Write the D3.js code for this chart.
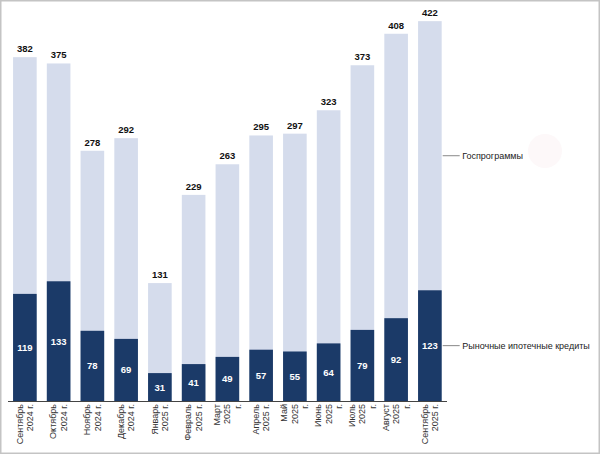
<!DOCTYPE html>
<html><head><meta charset="utf-8">
<script src="https://cdn.jsdelivr.net/npm/d3@7/dist/d3.min.js"></script>
<style>html,body{margin:0;padding:0;background:#fff;}svg{display:block;font-family:"Liberation Sans",Arial,sans-serif;}</style>
</head><body>
<svg id="c" width="600" height="454"></svg>
<script>
const categories = ["Сентябрь\n2024 г.","Октябрь\n2024 г.","Ноябрь\n2024 г.","Декабрь\n2024 г.","Январь\n2025 г.","Февраль\n2025 г.","Март\n2025\nг.","Апрель\n2025 г.","Май\n2025\nг.","Июнь\n2025\nг.","Июль\n2025\nг.","Август\n2025\nг.","Сентябрь\n2025 г."];
const totals = [382,375,278,292,131,229,263,295,297,323,373,408,422];
const market = [119,133,78,69,31,41,49,57,55,64,79,92,123];
const seriesNames = ["Госпрограммы","Рыночные ипотечные кредиты"];

const svg = d3.select("#c");
const dark = "#1b3a68", light = "#d5dcec";
const base = 401;
const x = d3.scaleBand().domain(d3.range(categories.length)).range([8, 446.75]).paddingInner(0.3).paddingOuter(0.15);
const y = d3.scaleLinear().domain([0, 445.5]).range([base, 0]);

svg.append("rect").attr("x",0.75).attr("y",0.75).attr("width",598.5).attr("height",452.5).attr("fill","none").attr("stroke","#c4c4c4").attr("stroke-width",1.5);
svg.append("circle").attr("cx",545).attr("cy",151).attr("r",17).attr("fill","#fdf8f9");

const data = categories.map((c,i)=>({i, total: totals[i], market: market[i]}));
// light (total) bars
svg.selectAll(".tb").data(data).join("rect").attr("x",d=>x(d.i)).attr("width",x.bandwidth())
  .attr("y",d=>y(d.total)).attr("height",d=>y(0)-y(d.total)).attr("fill",light);
// dark (market) bars
svg.selectAll(".mb").data(data).join("rect").attr("x",d=>x(d.i)).attr("width",x.bandwidth())
  .attr("y",d=>y(d.market)).attr("height",d=>y(0)-y(d.market)).attr("fill",dark);
// total labels
svg.selectAll(".tl").data(data).join("text").attr("x",d=>x(d.i)+x.bandwidth()/2).attr("y",d=>y(d.total)-5)
  .attr("text-anchor","middle").attr("font-size","9.5px").attr("font-weight","bold").attr("fill","#111").text(d=>d.total);
// market labels
svg.selectAll(".ml").data(data).join("text").attr("x",d=>x(d.i)+x.bandwidth()/2).attr("y",d=>(y(d.market)+y(0))/2)
  .attr("dominant-baseline","central").attr("text-anchor","middle").attr("font-size","9.5px").attr("font-weight","bold").attr("fill","#fff").text(d=>d.market);

// axis
svg.append("line").attr("x1",8).attr("x2",447).attr("y1",base+0.5).attr("y2",base+0.5).attr("stroke","#444").attr("stroke-width",1);

// x labels
data.forEach(d=>{
  const lines = categories[d.i].split("\n");
  const cx = x(d.i)+x.bandwidth()/2;
  lines.forEach((ln,k)=>{
    const px = cx + (k-(lines.length-1)/2)*10.5;
    svg.append("text").attr("transform",`translate(${px},404) rotate(-90)`)
      .attr("text-anchor","end").attr("dominant-baseline","central")
      .attr("font-size","9px").attr("fill","#333").text(ln);
  });
});

// legend annotations tied to last bar
const last = data[data.length-1];
const lx = x(last.i)+x.bandwidth();
const ys = [(y(last.total)+y(last.market))/2, (y(last.market)+y(0))/2];
ys.forEach((yy,k)=>{
  svg.append("line").attr("x1",lx+1).attr("x2",lx+18).attr("y1",yy).attr("y2",yy).attr("stroke","#888").attr("stroke-width",1);
  svg.append("text").attr("x",lx+20.5).attr("y",yy).attr("dominant-baseline","central").attr("font-size","9px").attr("fill","#222").text(seriesNames[k]);
});
</script>
</body></html>
